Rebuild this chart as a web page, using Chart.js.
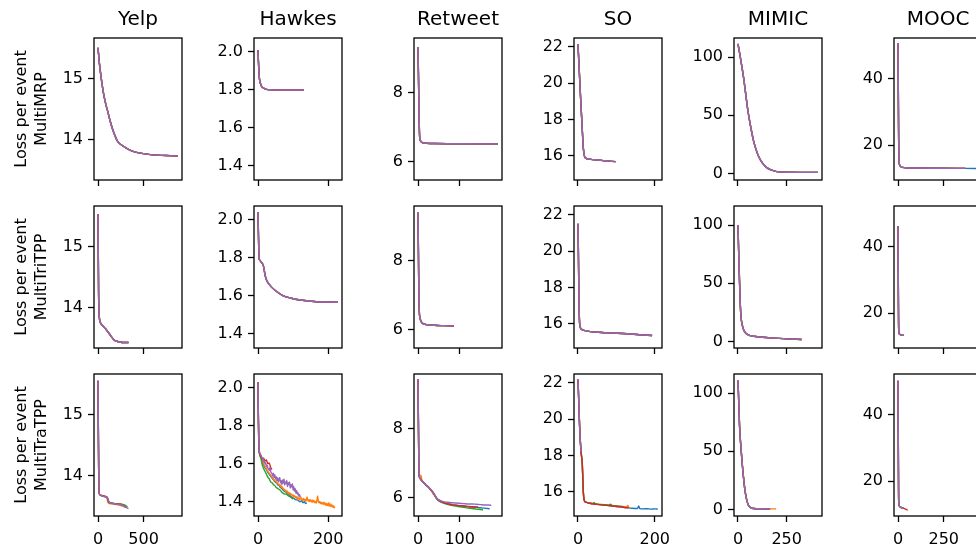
<!DOCTYPE html>
<html>
<head>
<meta charset="utf-8">
<script src="https://cdn.jsdelivr.net/npm/chart.js@4.4.0/dist/chart.umd.min.js"></script>
<style>
  html, body { margin: 0; padding: 0; background: #fff; overflow: hidden; }
  #fig { position: relative; width: 976px; height: 552px; overflow: hidden; }
  #fig canvas { position: absolute; }
</style>
</head>
<body>
<div id="fig"></div>
<script>
// column / row names
const datasetNames = ["Yelp", "Hawkes", "Retweet", "SO", "MIMIC", "MOOC"];
const modelNames = ["MultiMRP", "MultiTriTPP", "MultiTraTPP"];
const runColors = ["#1f77b4", "#ff7f0e", "#2ca02c", "#d62728", "#9467bd"];

// axis limits and ticks per column (rows share axes)
const xRanges = [[-44, 921], [-11.4, 239.4], [-9.6, 201.6], [-10.4, 218.8], [-20.5, 431.5], [-22, 459]];
const xTicks = [[0, 500], [0, 200], [0, 100], [0, 200], [0, 250], [0, 250]];
const xTickLabels = [["0", "500"], ["0", "200"], ["0", "100"], ["0", "200"], ["0", "250"], ["0", "250"]];
const yRanges = [[13.34, 15.66], [1.325, 2.073], [5.46, 9.59], [14.67, 22.48], [-5.7, 116.6], [9.5, 52.3]];
const yTicks = [[14, 15], [1.4, 1.6, 1.8, 2.0], [6, 8], [16, 18, 20, 22], [0, 50, 100], [20, 40]];
const yTickLabels = [["14", "15"], ["1.4", "1.6", "1.8", "2.0"], ["6", "8"], ["16", "18", "20", "22"], ["0", "50", "100"], ["20", "40"]];

// ---- MultiMRP (runs overlap) ----
const yelpMRP = [[0,15.5],[15,15.25],[33,15.03],[50,14.85],[70,14.68],[90,14.55],[105,14.47],[130,14.32],[160,14.17],[190,14.05],[215,13.97],[250,13.92],[300,13.87],[350,13.83],[400,13.8],[500,13.77],[600,13.75],[750,13.74],[877,13.73]];
const hawkesMRP = [[0,2.01],[1,1.96],[2,1.92],[3,1.885],[4,1.86],[6,1.84],[8,1.828],[11,1.816],[15,1.81],[20,1.805],[28,1.801],[40,1.8],[80,1.799],[131,1.799]];
const retweetMRP = [[0,9.32],[1,8.6],[2,7.8],[3,7.1],[4,6.7],[6,6.6],[9,6.56],[12,6.54],[20,6.53],[40,6.52],[100,6.515],[192,6.51]];
const soMRP = [[0,22.15],[3,20.8],[7,19.1],[11,17.5],[14,16.4],[17,15.97],[20,15.87],[30,15.82],[45,15.78],[70,15.73],[98,15.68]];
const mimicMRP = [[0,111.5],[10,102],[20,92],[30,81],[40,68],[50,55],[60,45],[71,35],[80,28],[90,22],[105,15],[125,9],[148,5],[170,3],[199,1.5],[250,1],[320,0.9],[411,0.9]];
const moocMRP = [[0,50.8],[1,42],[2,33],[3,25],[4,19],[6,15],[9,14],[15,13.5],[40,13.2],[100,13.1],[200,13.05],[368,13.0]];
const moocMRPBlue = [[0,50.8],[1,42],[2,33],[3,25],[4,19],[6,15],[9,14],[15,13.5],[40,13.2],[100,13.1],[200,13.05],[368,13.0],[437,12.95]];

// ---- MultiTriTPP (runs overlap) ----
const yelpTri = [[0,15.53],[3,14.9],[6,14.3],[10,13.95],[16,13.82],[25,13.76],[35,13.73],[60,13.69],[85,13.65],[105,13.61],[130,13.56],[155,13.51],[177,13.47],[205,13.45],[232,13.44],[280,13.43],[334,13.43]];
const hawkesTri = [[0,2.04],[1,1.95],[2,1.86],[3,1.8],[5,1.788],[9,1.778],[14,1.765],[17,1.745],[20,1.71],[24,1.685],[30,1.665],[40,1.643],[55,1.62],[72,1.6],[95,1.587],[120,1.578],[160,1.57],[200,1.567],[228,1.566]];
const retweetTri = [[0,9.4],[1,8.3],[2,7.1],[3,6.55],[5,6.33],[8,6.22],[12,6.17],[20,6.14],[40,6.12],[60,6.11],[86,6.1]];
const soTri = [[0,21.5],[1,20.0],[2,18.3],[3,16.8],[4,16.1],[6,15.8],[11,15.68],[25,15.6],[42,15.55],[80,15.5],[128,15.45],[160,15.4],[193,15.36]];
const mimicTri = [[0,100],[3,80],[6.6,59],[10,40],[15,22],[22,14],[29,10],[40,7],[63,5],[100,4],[165,3],[250,2.2],[327,1.6]];
const moocTri = [[0,46.2],[1,35],[2,25],[3,17],[5,14.2],[10,13.6],[20,13.4],[31,13.3]];

// ---- MultiTraTPP (runs differ) ----
const yelpTraBlue = [[0,15.55],[4,14.7],[8,14.0],[12,13.72],[25,13.68],[60,13.66],[100,13.64],[118,13.57],[150,13.55],[200,13.54],[250,13.53],[290,13.5],[315,13.48]];
const yelpTraOrange = [[0,15.55],[4,14.7],[8,14.0],[12,13.72],[25,13.68],[60,13.66],[95,13.65],[102,13.6],[108,13.56],[140,13.54],[180,13.53],[230,13.52],[270,13.5],[300,13.48]];
const yelpTraGreen = [[0,15.55],[4,14.7],[8,14.0],[12,13.72],[25,13.68],[60,13.66],[100,13.64],[120,13.56],[150,13.55],[200,13.54],[250,13.535],[290,13.52],[323,13.49]];
const yelpTraRed = [[0,15.55],[4,14.7],[8,14.0],[12,13.72],[25,13.68],[60,13.67],[100,13.65],[115,13.58],[150,13.55],[200,13.54],[250,13.53],[300,13.49]];
const yelpTraPurple = [[0,15.55],[4,14.7],[8,14.0],[12,13.72],[25,13.68],[60,13.66],[95,13.65],[110,13.62],[122,13.57],[140,13.55],[180,13.54],[230,13.53],[260,13.52],[300,13.49],[334,13.46]];

const hawkesTraBlue = [[0,2.03],[1,1.85],[2,1.74],[3,1.675],[5,1.655],[8,1.64],[12,1.615],[16,1.595],[20,1.58],[24,1.57],[28,1.555],[32,1.545],[36,1.535],[40,1.525],[44,1.515],[48,1.505],[52,1.5],[56,1.49],[60,1.485],[64,1.475],[68,1.47],[72,1.46],[76,1.455],[80,1.45],[84,1.44],[88,1.44],[92,1.43],[96,1.425],[100,1.42],[104,1.415],[108,1.41],[112,1.41],[116,1.405],[120,1.4],[124,1.405],[128,1.395],[132,1.4],[136,1.39],[139,1.395]];
const hawkesTraOrange = [[0,2.03],[1,1.86],[2,1.75],[3,1.68],[5,1.66],[8,1.645],[12,1.62],[16,1.6],[20,1.585],[24,1.575],[28,1.56],[32,1.55],[36,1.54],[40,1.53],[42,1.522],[44,1.525],[46,1.512],[48,1.515],[50,1.505],[52,1.508],[54,1.497],[56,1.5],[58,1.49],[60,1.492],[62,1.484],[64,1.488],[66,1.476],[68,1.48],[70,1.47],[72,1.472],[74,1.462],[76,1.465],[78,1.456],[80,1.46],[82,1.45],[84,1.455],[86,1.445],[88,1.448],[90,1.44],[92,1.445],[94,1.436],[96,1.44],[98,1.43],[100,1.436],[102,1.426],[104,1.432],[106,1.422],[108,1.428],[110,1.418],[112,1.425],[114,1.414],[116,1.42],[118,1.41],[120,1.418],[122,1.425],[124,1.41],[126,1.415],[128,1.405],[130,1.418],[132,1.408],[134,1.412],[136,1.402],[138,1.414],[140,1.425],[142,1.405],[144,1.41],[146,1.4],[148,1.412],[150,1.403],[152,1.408],[154,1.396],[156,1.41],[158,1.4],[160,1.405],[162,1.395],[164,1.402],[166,1.392],[168,1.41],[170,1.43],[172,1.4],[174,1.395],[176,1.402],[178,1.39],[180,1.398],[182,1.388],[184,1.395],[186,1.385],[188,1.398],[190,1.39],[192,1.382],[194,1.392],[196,1.38],[198,1.39],[200,1.378],[202,1.395],[204,1.382],[206,1.375],[208,1.388],[210,1.375],[212,1.382],[214,1.37],[216,1.378],[218,1.368],[219,1.372]];
const hawkesTraGreen = [[0,2.03],[1,1.84],[2,1.73],[3,1.67],[5,1.645],[8,1.63],[12,1.595],[16,1.575],[20,1.56],[24,1.545],[28,1.53],[32,1.52],[36,1.505],[40,1.5],[44,1.49],[48,1.485],[52,1.475],[56,1.47],[60,1.465],[64,1.46],[68,1.45],[72,1.445],[76,1.44],[80,1.44],[84,1.435],[88,1.43],[92,1.425],[96,1.42],[100,1.415]];
const hawkesTraRed = [[0,2.03],[1,1.86],[2,1.75],[3,1.68],[5,1.65],[8,1.64],[12,1.625],[16,1.63],[20,1.615],[24,1.62],[28,1.6],[32,1.605],[36,1.58],[40,1.57]];
const hawkesTraPurple = [[0,2.03],[1,1.85],[2,1.74],[3,1.68],[5,1.655],[8,1.645],[10,1.64],[12,1.628],[14,1.632],[16,1.612],[18,1.618],[20,1.6],[22,1.606],[24,1.585],[26,1.592],[28,1.578],[30,1.575],[32,1.566],[34,1.58],[36,1.56],[38,1.552],[40,1.548],[42,1.535],[44,1.55],[46,1.528],[48,1.542],[50,1.52],[52,1.532],[54,1.51],[56,1.527],[58,1.505],[60,1.518],[62,1.528],[64,1.5],[66,1.512],[68,1.49],[70,1.515],[72,1.498],[74,1.52],[76,1.488],[78,1.505],[80,1.495],[82,1.512],[84,1.48],[86,1.5],[88,1.49],[90,1.505],[92,1.472],[94,1.49],[96,1.478],[98,1.495],[100,1.462],[102,1.48],[104,1.455],[106,1.47],[108,1.445],[110,1.46],[112,1.44],[114,1.448],[116,1.43],[118,1.438],[120,1.425]];

const retweetTraBlue = [[0,9.44],[1,8.2],[2,7.0],[3,6.62],[5,6.55],[8,6.5],[12,6.45],[16,6.4],[20,6.35],[25,6.3],[30,6.23],[35,6.16],[40,6.07],[45,5.97],[50,5.92],[60,5.86],[70,5.83],[80,5.8],[90,5.78],[100,5.76],[110,5.75],[120,5.73],[130,5.72],[140,5.71],[150,5.7],[160,5.69],[172,5.67]];
const retweetTraOrange = [[0,9.44],[1,8.2],[2,7.0],[3,6.7],[5,6.6],[7,6.65],[9,6.52],[12,6.46],[16,6.4],[20,6.34],[25,6.29],[30,6.22],[34,6.15],[36,6.1],[38,6.12],[40,6.05],[45,5.97],[50,5.92],[60,5.86],[70,5.82],[80,5.79],[90,5.77]];
const retweetTraGreen = [[0,9.44],[1,8.2],[2,7.0],[3,6.62],[5,6.55],[8,6.5],[12,6.45],[16,6.4],[20,6.35],[25,6.3],[30,6.23],[35,6.16],[40,6.06],[45,5.96],[50,5.9],[60,5.84],[70,5.8],[80,5.77],[90,5.75],[100,5.73],[110,5.71],[120,5.69],[130,5.68],[140,5.66],[150,5.65],[156,5.64]];
const retweetTraRed = [[0,9.44],[1,8.2],[2,7.0],[3,6.62],[5,6.55],[8,6.5],[12,6.45],[16,6.4],[20,6.35],[25,6.3],[30,6.23],[35,6.16],[40,6.07],[45,5.97],[50,5.91],[60,5.85],[70,5.82],[80,5.79],[90,5.77],[100,5.76],[110,5.75],[120,5.74],[130,5.73],[144,5.72]];
const retweetTraPurple = [[0,9.44],[1,8.2],[2,7.0],[3,6.62],[5,6.55],[8,6.5],[12,6.45],[16,6.4],[20,6.35],[25,6.3],[30,6.24],[35,6.17],[40,6.08],[45,5.98],[50,5.93],[60,5.88],[70,5.86],[80,5.85],[90,5.84],[100,5.83],[110,5.82],[120,5.81],[130,5.81],[140,5.8],[150,5.79],[160,5.78],[170,5.78],[176,5.77]];

const soTraBlue = [[0,22.18],[2,21],[3.5,20],[5,19.2],[7,18.5],[9,18.0],[11,17.6],[13,16.5],[14,15.95],[17,15.5],[22,15.42],[33,15.36],[50,15.31],[68,15.27],[90,15.22],[111,15.17],[128,15.13],[140,15.1],[150,15.08],[155,15.08],[158,15.22],[161,15.08],[170,15.06],[180,15.07],[190,15.05],[200,15.06],[208,15.05]];
const soTraOrange = [[0,22.18],[2,21],[3.5,20],[5,19.2],[7,18.5],[9,18.0],[11,17.6],[13,16.5],[14,15.95],[17,15.5],[22,15.42],[33,15.36],[68,15.28],[100,15.22],[120,15.18],[128,15.2],[130,15.25],[132,15.16]];
const soTraGreen = [[0,22.18],[2,21],[3.5,20],[5,19.2],[7,18.5],[9,18.0],[11,17.6],[13,16.5],[14,15.95],[17,15.5],[22,15.42],[33,15.37],[40,15.36],[42,15.42],[44,15.35],[60,15.31],[80,15.27],[85,15.32],[88,15.26],[100,15.22],[120,15.18]];
const soTraRed = [[0,22.18],[2,21],[3.5,20],[5,19.2],[7,18.5],[9,18.0],[11,17.6],[13,16.5],[14,15.95],[17,15.5],[22,15.42],[33,15.36],[50,15.31],[68,15.27],[90,15.22],[111,15.17],[128,15.12],[132,15.12]];
const soTraPurple = [[0,22.18],[2,21],[3.5,20],[5,19.2],[7,18.5],[8,18.2]];

const mimicTra = [[0,111],[4,92],[8,72],[14,56],[20,43],[28,28],[37,15],[45,8],[54,3.5],[65,1.5],[80,0.7],[120,0.5],[165,0.4]];
const mimicTraOrange = [[0,111],[4,92],[8,72],[14,56],[20,43],[28,28],[37,15],[45,8],[54,3.5],[65,1.5],[80,0.7],[120,0.5],[165,0.4],[196,0.4]];
const moocTra = [[0,50.3],[1,38],[2,26],[3,17],[4,13.5],[8,12.4],[20,12],[31,11.8]];
const moocTraRed = [[0,50.3],[1,38],[2,26],[3,17],[4,13.5],[8,12.4],[20,12],[31,11.8],[45,11.5],[53,11.3]];

// runs per panel, in colour order blue, orange, green, red, purple
const panels = [
  [
    [yelpMRP, yelpMRP, yelpMRP, yelpMRP, yelpMRP],
    [hawkesMRP, hawkesMRP, hawkesMRP, hawkesMRP, hawkesMRP],
    [retweetMRP, retweetMRP, retweetMRP, retweetMRP, retweetMRP],
    [soMRP, soMRP, soMRP, soMRP, soMRP],
    [mimicMRP, mimicMRP, mimicMRP, mimicMRP, mimicMRP],
    [moocMRPBlue, moocMRP, moocMRP, moocMRP, moocMRP],
  ],
  [
    [yelpTri, yelpTri, yelpTri, yelpTri, yelpTri],
    [hawkesTri, hawkesTri, hawkesTri, hawkesTri, hawkesTri],
    [retweetTri, retweetTri, retweetTri, retweetTri, retweetTri],
    [soTri, soTri, soTri, soTri, soTri],
    [mimicTri, mimicTri, mimicTri, mimicTri, mimicTri],
    [moocTri, moocTri, moocTri, moocTri, moocTri],
  ],
  [
    [yelpTraBlue, yelpTraOrange, yelpTraGreen, yelpTraRed, yelpTraPurple],
    [hawkesTraBlue, hawkesTraOrange, hawkesTraGreen, hawkesTraRed, hawkesTraPurple],
    [retweetTraBlue, retweetTraOrange, retweetTraGreen, retweetTraRed, retweetTraPurple],
    [soTraBlue, soTraOrange, soTraGreen, soTraRed, soTraPurple],
    [mimicTra, mimicTraOrange, mimicTra, mimicTra, mimicTra],
    [moocTra, moocTra, moocTra, moocTraRed, moocTra],
  ],
];

// layout in px
const AXIS_W = 94, PLOT_W = 88, RIGHT_W = 20;
const TOP_H = 36, PLOT_H = 142, BOTTOM_H = 40;
const COL_STEP = 160, ROW_STEP = 168, FIRST_TOP = 38;

Chart.defaults.font.family = "'DejaVu Sans', sans-serif";
Chart.defaults.font.size = 16;
Chart.defaults.color = "#000";

// black box around each plot area
const frame = {
  id: "frame",
  afterDraw(chart) {
    const { ctx, chartArea: a } = chart;
    ctx.save();
    ctx.strokeStyle = "#000";
    ctx.lineWidth = 1.3;
    ctx.strokeRect(a.left, a.top, a.right - a.left, a.bottom - a.top);
    ctx.restore();
  },
};

const tickGrid = { display: true, drawOnChartArea: false, drawTicks: true, tickLength: 6, tickWidth: 1.3, tickColor: "#000" };
const hiddenAxis = { display: true, min: 0, max: 1, ticks: { display: false }, grid: { display: false }, border: { display: false } };

const fig = document.getElementById("fig");

for (let r = 0; r < modelNames.length; r++) {
  for (let c = 0; c < datasetNames.length; c++) {
    const canvas = document.createElement("canvas");
    canvas.width = AXIS_W + PLOT_W + RIGHT_W;
    canvas.height = TOP_H + PLOT_H + BOTTOM_H;
    canvas.style.left = (c * COL_STEP) + "px";
    canvas.style.top = (FIRST_TOP + r * ROW_STEP - TOP_H) + "px";
    fig.appendChild(canvas);

    const runs = panels[r][c];
    new Chart(canvas.getContext("2d"), {
      type: "line",
      data: {
        datasets: runs.map((pts, i) => ({
          data: pts,
          borderColor: runColors[i],
          borderWidth: 1.4,
          pointRadius: 0,
          fill: false,
          cubicInterpolationMode: "monotone",
          order: runs.length - 1 - i,
          xAxisID: "x",
          yAxisID: "y",
        })),
      },
      options: {
        responsive: false,
        animation: false,
        devicePixelRatio: 1,
        events: [],
        layout: { padding: 0 },
        plugins: { legend: { display: false }, tooltip: { enabled: false } },
        scales: {
          x: {
            type: "linear",
            position: "bottom",
            min: xRanges[c][0],
            max: xRanges[c][1],
            afterBuildTicks: (axis) => { axis.ticks = xTicks[c].map((v) => ({ value: v })); },
            afterFit: (scale) => { scale.height = BOTTOM_H; },
            ticks: {
              display: r === modelNames.length - 1,
              padding: 8,
              maxRotation: 0,
              autoSkip: false,
              callback: (v, i) => xTickLabels[c][i],
            },
            grid: tickGrid,
            border: { display: false },
          },
          x2: {
            ...hiddenAxis,
            type: "linear",
            position: "top",
            afterFit: (scale) => { scale.height = TOP_H; },
            title: {
              display: r === 0,
              text: datasetNames[c],
              font: { size: 20 },
              padding: { top: 6, bottom: 0 },
            },
          },
          y: {
            type: "linear",
            position: "left",
            min: yRanges[c][0],
            max: yRanges[c][1],
            afterBuildTicks: (axis) => { axis.ticks = yTicks[c].map((v) => ({ value: v })); },
            afterFit: (scale) => { scale.width = AXIS_W; },
            ticks: {
              padding: 5,
              autoSkip: false,
              callback: (v, i) => yTickLabels[c][i],
            },
            grid: tickGrid,
            border: { display: false },
            title: {
              display: c === 0,
              text: ["Loss per event", modelNames[r]],
              font: { size: 16, lineHeight: 1.25 },
              padding: { top: 12, bottom: 0 },
            },
          },
          y2: {
            ...hiddenAxis,
            type: "linear",
            position: "right",
            afterFit: (scale) => { scale.width = RIGHT_W; },
          },
        },
      },
      plugins: [frame],
    });
  }
}
</script>
</body>
</html>
